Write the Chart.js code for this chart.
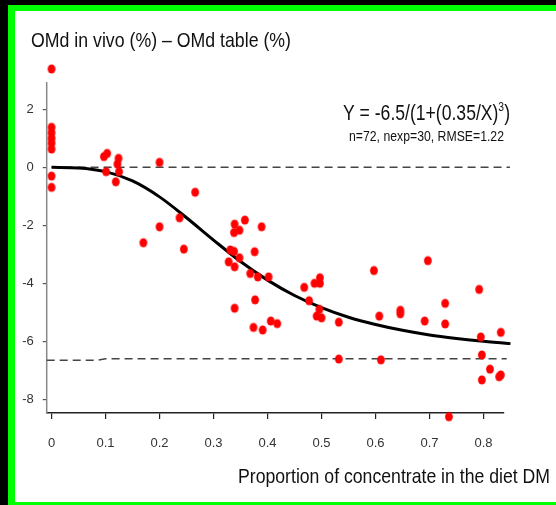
<!DOCTYPE html>
<html>
<head>
<meta charset="utf-8">
<script src="https://cdn.jsdelivr.net/npm/chart.js@4"></script>
<style>
    html, body { margin: 0; padding: 0; background: #000; overflow: hidden; }
    #frame {
        position: absolute; left: 8px; top: 5px; width: 560px; height: 491px;
        background: #fff;
        border-left: 7px solid #00ff00; border-top: 6px solid #00ff00; border-bottom: 3px solid #00ff00;
    }
    #plot { position: absolute; left: 0; top: 0; }
</style>
</head>
<body>
<div id="frame"></div>
<canvas id="plot" width="556" height="505"></canvas>
<script>
// observations: proportion of concentrate vs OMd difference
const obsX = [
    0, 0, 0, 0, 0, 0, 0, 0,
    0.097, 0.103, 0.101, 0.124, 0.122, 0.125, 0.119,
    0.200, 0.200, 0.170, 0.237, 0.266, 0.245,
    0.339, 0.358, 0.338, 0.348, 0.389,
    0.331, 0.338, 0.348, 0.328, 0.339, 0.376, 0.368, 0.382, 0.402,
    0.468, 0.487, 0.497, 0.497, 0.477, 0.496, 0.491, 0.500, 0.532,
    0.377, 0.339, 0.406, 0.418, 0.374, 0.391,
    0.532, 0.597, 0.607, 0.610, 0.646, 0.646, 0.697, 0.691, 0.729, 0.729, 0.736,
    0.792, 0.795, 0.797, 0.812, 0.797, 0.832, 0.829, 0.832
];
const obsY = [
    3.39, 1.38, 1.19, 1.00, 0.83, 0.63, -0.30, -0.69,
    0.37, 0.48, -0.15, 0.31, 0.11, -0.15, -0.50,
    0.17, -2.05, -2.60, -1.74, -0.86, -2.82,
    -1.96, -1.82, -2.25, -2.17, -2.05,
    -2.85, -2.90, -3.12, -3.26, -3.43, -2.91, -3.66, -3.78, -3.78,
    -4.14, -4.00, -3.81, -4.00, -4.60, -4.90, -5.13, -5.19, -5.34,
    -4.57, -4.86, -5.30, -5.39, -5.52, -5.61,
    -6.61, -3.56, -5.13, -6.64, -4.93, -5.05, -3.22, -5.30, -4.69, -5.40, -8.60,
    -4.21, -5.85, -6.47, -6.96, -7.33, -5.69, -7.22, -7.16
];

// fitted response curve
const fitX = [0, 0.05, 0.10, 0.15, 0.20, 0.25, 0.30, 0.35, 0.40, 0.45, 0.50, 0.55, 0.60, 0.65, 0.70, 0.75, 0.80, 0.85, 0.864];
const fitY = [0, -0.02, -0.15, -0.47, -1.02, -1.74, -2.51, -3.25, -3.89, -4.42, -4.84, -5.17, -5.42, -5.62, -5.78, -5.90, -6.00, -6.08, -6.10];

// dashed reference lines
const zeroLineX = [0, 0.849];
const zeroLineY = [0, 0];
const lowLineX = [-0.009, 0.085, 0.10, 0.843];
const lowLineY = [-6.65, -6.65, -6.60, -6.60];

const xTicks = [0, 0.1, 0.2, 0.3, 0.4, 0.5, 0.6, 0.7, 0.8];
const yTicks = [-8, -6, -4, -2, 0, 2];

const yTitle = 'OMd in vivo (%) \u2013 OMd table (%)';
const xTitle = 'Proportion of concentrate in the diet DM';
const fitLabel = ['Y = -6.5/(1+(0.35/X)', '3', ')'];
const fitStats = 'n=72, nexp=30, RMSE=1.22';

// the drawn y axis line stops short of the plot top
const Y_AXIS_TOP = 2.94;

const toPoints = (xs, ys) => xs.map((x, i) => ({ x: x, y: ys[i] }));

// slightly tall red dot used as point style
const dot = document.createElement('canvas');
dot.width = 10;
dot.height = 12;
const dctx = dot.getContext('2d');
dctx.fillStyle = '#ff0000';
dctx.beginPath();
dctx.ellipse(5, 6, 3.9, 4.6, 0, 0, Math.PI * 2);
dctx.fill();

const FONT = '"Liberation Sans", Arial, sans-serif';
const TICK_FONT = '"Liberation Sans Narrow", "Arial Narrow", "Liberation Sans", sans-serif';

// draws a run of text squeezed horizontally to a given width
function drawRun(ctx, parts, x, baseline, width) {
    let natural = 0;
    parts.forEach(p => { ctx.font = p.font; natural += ctx.measureText(p.text).width; });
    ctx.save();
    ctx.translate(x, baseline);
    ctx.scale(width / natural, 1);
    ctx.fillStyle = '#111';
    ctx.textBaseline = 'alphabetic';
    ctx.textAlign = 'left';
    let cx = 0;
    parts.forEach(p => {
        ctx.font = p.font;
        ctx.fillText(p.text, cx, p.dy || 0);
        cx += ctx.measureText(p.text).width;
    });
    ctx.restore();
}

const yAxisLine = {
    id: 'yAxisLine',
    beforeDatasetsDraw(chart) {
        const ctx = chart.ctx;
        const area = chart.chartArea;
        const y = chart.scales.y;
        ctx.save();
        ctx.strokeStyle = '#888';
        ctx.lineWidth = 1.5;
        ctx.beginPath();
        ctx.moveTo(area.left, y.getPixelForValue(Y_AXIS_TOP));
        ctx.lineTo(area.left, area.bottom);
        ctx.stroke();
        ctx.restore();
    }
};

const textLayer = {
    id: 'textLayer',
    afterDraw(chart) {
        const ctx = chart.ctx;
        drawRun(ctx, [{ text: yTitle, font: '21px ' + FONT }], 31, 47, 260);
        drawRun(ctx, [
            { text: fitLabel[0], font: '22px ' + FONT },
            { text: fitLabel[1], font: '13px ' + FONT, dy: -9 },
            { text: fitLabel[2], font: '22px ' + FONT }
        ], 343, 119.5, 167);
        drawRun(ctx, [{ text: fitStats, font: '14px ' + FONT }], 349, 141, 155);
        drawRun(ctx, [{ text: xTitle, font: '21px ' + FONT }], 238, 483, 312);
    }
};

new Chart(document.getElementById('plot'), {
    type: 'scatter',
    data: {
        datasets: [
            {
                data: toPoints(obsX, obsY),
                pointStyle: dot,
                pointRadius: 4,
                showLine: false,
                clip: false,
                order: 0
            },
            {
                data: toPoints(fitX, fitY),
                showLine: true,
                borderColor: '#000',
                borderWidth: 3,
                pointRadius: 0,
                cubicInterpolationMode: 'monotone',
                clip: false,
                order: 1
            },
            {
                data: toPoints(zeroLineX, zeroLineY),
                showLine: true,
                borderColor: '#444',
                borderWidth: 1.5,
                borderDash: [8, 5],
                pointRadius: 0,
                clip: false,
                order: 2
            },
            {
                data: toPoints(lowLineX, lowLineY),
                showLine: true,
                borderColor: '#444',
                borderWidth: 1.5,
                borderDash: [8, 5],
                pointRadius: 0,
                clip: false,
                order: 2
            }
        ]
    },
    options: {
        responsive: false,
        animation: false,
        layout: { padding: { top: 62.9, right: 52, bottom: 0, left: 0 } },
        plugins: { legend: { display: false }, tooltip: { enabled: false } },
        scales: {
            x: {
                type: 'linear',
                min: -0.009,
                max: 0.838,
                afterFit: s => { s.height = 92; },
                afterBuildTicks: s => { s.ticks = xTicks.map(v => ({ value: v })); },
                border: { display: true, color: '#222', width: 1.5 },
                grid: { drawOnChartArea: false, drawTicks: true, tickLength: 6, color: '#222', lineWidth: 1.2 },
                ticks: {
                    padding: 17,
                    color: '#333',
                    font: { family: TICK_FONT, size: 13 },
                    maxRotation: 0,
                    callback: v => String(v)
                }
            },
            y: {
                type: 'linear',
                min: -8.472,
                max: 3.6,
                afterFit: s => { s.width = 46.7; },
                afterBuildTicks: s => { s.ticks = yTicks.map(v => ({ value: v })); },
                border: { display: false },
                grid: { drawOnChartArea: false, drawTicks: true, tickLength: 4, color: '#555', lineWidth: 1.2 },
                ticks: {
                    padding: 9,
                    color: '#333',
                    font: { family: TICK_FONT, size: 13 },
                    callback: v => String(v)
                }
            }
        }
    },
    plugins: [yAxisLine, textLayer]
});
</script>
</body>
</html>
